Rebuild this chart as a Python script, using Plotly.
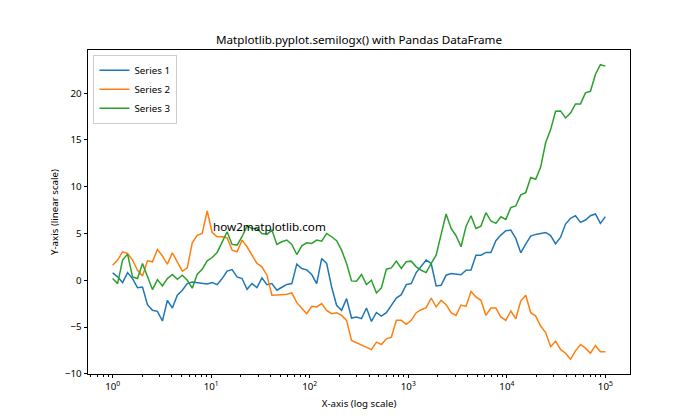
import numpy as np
import plotly.graph_objects as go

# x positions: 100 log-spaced points from 10^0 to 10^5
x = np.logspace(0, 5, 100)

series_1 = [0.79, 0.36, -0.25, 0.82, 0.18, -0.79, -0.72, -2.61, -3.22, -3.33,
            -4.36, -2.15, -2.97, -1.61, -1.07, -0.36, -0.20, -0.29, -0.36, -0.39,
            -0.25, -0.47, 0.18, 0.97, 1.14, 0.36, 0.18, -0.97, -0.36, -0.79,
            0.25, -0.47, -0.36, -1.07, -0.75, -0.45, -0.36, 1.72, 1.25, 1.11,
            0.61, -0.36, 2.32, 1.79, -0.72, -2.68, -3.22, -1.97, -4.04, -3.93,
            -4.11, -2.97, -4.40, -3.45, -3.83, -3.47, -2.68, -1.90, -1.54, -0.47,
            -0.36, 0.82, 1.50, 2.15, 1.79, -0.61, -0.54, 0.54, 0.72, 0.64,
            0.58, 1.07, 1.10, 2.68, 2.68, 2.97, 2.97, 4.22, 4.83, 5.29,
            5.36, 4.47, 2.93, 3.86, 4.72, 4.90, 5.00, 5.11, 4.78, 3.88,
            4.60, 6.01, 6.62, 6.90, 6.19, 6.44, 6.90, 7.08, 6.08, 6.80]

series_2 = [1.61, 2.15, 3.04, 2.86, 2.15, 1.07, 0.46, 2.07, 1.97, 3.29,
            2.61, 1.72, 2.93, 1.97, 0.97, 1.32, 4.00, 4.80, 5.00, 7.40,
            5.10, 4.65, 4.65, 4.54, 3.22, 3.04, 4.29, 3.58, 2.68, 1.79,
            1.43, 0.54, -1.61, -1.61, -1.54, -1.50, -1.36, -2.40, -2.97, -3.58,
            -2.79, -2.86, -2.50, -3.22, -3.58, -3.47, -3.76, -4.29, -6.44, -6.69,
            -6.87, -7.15, -7.42, -6.62, -6.87, -6.26, -6.08, -4.29, -4.29, -4.72,
            -4.29, -3.47, -3.15, -2.93, -1.90, -2.86, -2.15, -2.61, -3.47, -3.76,
            -2.65, -2.80, -1.20, -1.79, -2.15, -3.76, -2.97, -2.97, -3.93, -4.29,
            -3.29, -4.11, -2.22, -1.61, -3.47, -3.83, -4.90, -5.60, -7.10, -6.52,
            -7.40, -7.80, -8.45, -7.55, -6.87, -7.26, -7.80, -6.97, -7.65, -7.65]

series_3 = [0.18, -0.36, 2.15, 2.79, 0.36, 0.18, 1.79, 0.36, -1.00, 0.07,
            -0.61, 0.18, 0.61, 0.11, 0.54, 0.00, -0.85, 0.65, 1.18, 2.07,
            2.43, 2.97, 4.04, 5.18, 3.83, 3.76, 4.65, 5.79, 5.54, 5.54,
            5.00, 4.90, 5.36, 3.83, 4.11, 4.30, 3.83, 2.75, 3.68, 4.00,
            3.93, 4.29, 4.18, 5.00, 4.65, 4.22, 3.22, 1.79, -0.07, -0.11,
            0.61, -0.47, 0.00, -1.36, -0.82, 1.18, 1.32, 2.04, 1.25, 1.97,
            2.04, 1.43, 1.07, 0.82, 1.79, 2.68, 4.90, 7.08, 5.54, 4.76,
            3.58, 5.75, 6.90, 5.54, 5.79, 7.22, 6.33, 6.08, 6.79, 6.51,
            7.76, 7.94, 9.12, 9.37, 10.98, 10.80, 12.10, 14.70, 16.10, 18.06,
            18.10, 17.35, 17.88, 18.85, 18.85, 20.03, 20.20, 22.00, 23.04, 22.89]

series_names = ["Series 1", "Series 2", "Series 3"]
colors = ["#1f77b4", "#ff7f0e", "#2ca02c"]

x_tick_vals = [1, 10, 100, 1000, 10000, 100000]
x_tick_text = ["10<sup>0</sup>", "10<sup>1</sup>", "10<sup>2</sup>",
               "10<sup>3</sup>", "10<sup>4</sup>", "10<sup>5</sup>"]
y_tick_vals = [-10, -5, 0, 5, 10, 15, 20]

FONT = "Noto Sans"
fs = 9.72

fig = go.Figure()
for name, ys, c in zip(series_names, [series_1, series_2, series_3], colors):
    fig.add_trace(go.Scatter(x=x, y=ys, mode="lines", name=name,
                             line=dict(color=c, width=1.5)))

# matplotlib-style 5% margins
lx0, lx1 = np.log10(x.min()), np.log10(x.max())
padx = 0.05 * (lx1 - lx0)
all_y = series_1 + series_2 + series_3
ymin, ymax = min(all_y), max(all_y)
pady = 0.05 * (ymax - ymin)

minor_vals = [k * 10.0 ** d for d in range(-1, 6) for k in range(2, 10)
              if lx0 - padx <= np.log10(k * 10.0 ** d) <= lx1 + padx]

fig.update_layout(
    width=700, height=420, autosize=False,
    margin=dict(l=88, r=70, t=50, b=46),
    paper_bgcolor="white", plot_bgcolor="white",
    font=dict(family=FONT, size=fs, color="black"),
    title=dict(text="Matplotlib.pyplot.semilogx() with Pandas DataFrame",
               x=0.5, xref="paper", xanchor="center",
               y=1 - 40 / 420, yref="container", yanchor="middle",
               font=dict(size=11.67, color="black", family=FONT)),
    showlegend=True,
    legend=dict(x=0.01, y=0.985, xanchor="left", yanchor="top",
                bgcolor="rgba(255,255,255,0.8)", bordercolor="#cccccc",
                borderwidth=1, itemwidth=30, tracegroupgap=0,
                font=dict(size=fs, family=FONT)),
    xaxis=dict(type="log", range=[lx0 - padx, lx1 + padx],
               showgrid=False, zeroline=False,
               showline=True, linecolor="black", linewidth=0.8, mirror=True,
               ticks="outside", ticklen=3.5, tickwidth=0.8, tickcolor="black",
               tickmode="array", tickvals=x_tick_vals, ticktext=x_tick_text,
               minor=dict(ticks="outside", ticklen=2, tickwidth=0.6,
                          tickcolor="black", tickmode="array", tickvals=minor_vals,
                          showgrid=False),
               title=dict(text="X-axis (log scale)", font=dict(size=fs), standoff=8)),
    yaxis=dict(range=[ymin - pady, ymax + pady],
               showgrid=False, zeroline=False,
               showline=True, linecolor="black", linewidth=0.8, mirror=True,
               ticks="outside", ticklen=3.5, tickwidth=0.8, tickcolor="black",
               tickmode="array", tickvals=y_tick_vals,
               title=dict(text="Y-axis (linear scale)", font=dict(size=fs), standoff=4)),
)

fig.add_annotation(x=1, y=5, xref="x", yref="y", text="how2matplotlib.com",
                   showarrow=False, xanchor="left", yanchor="bottom", yshift=-3,
                   font=dict(size=11.67, family=FONT, color="black"))

fig.write_html("out.html", config={"displayModeBar": False},
               post_script="document.body.style.margin='0';document.body.style.padding='0';")
